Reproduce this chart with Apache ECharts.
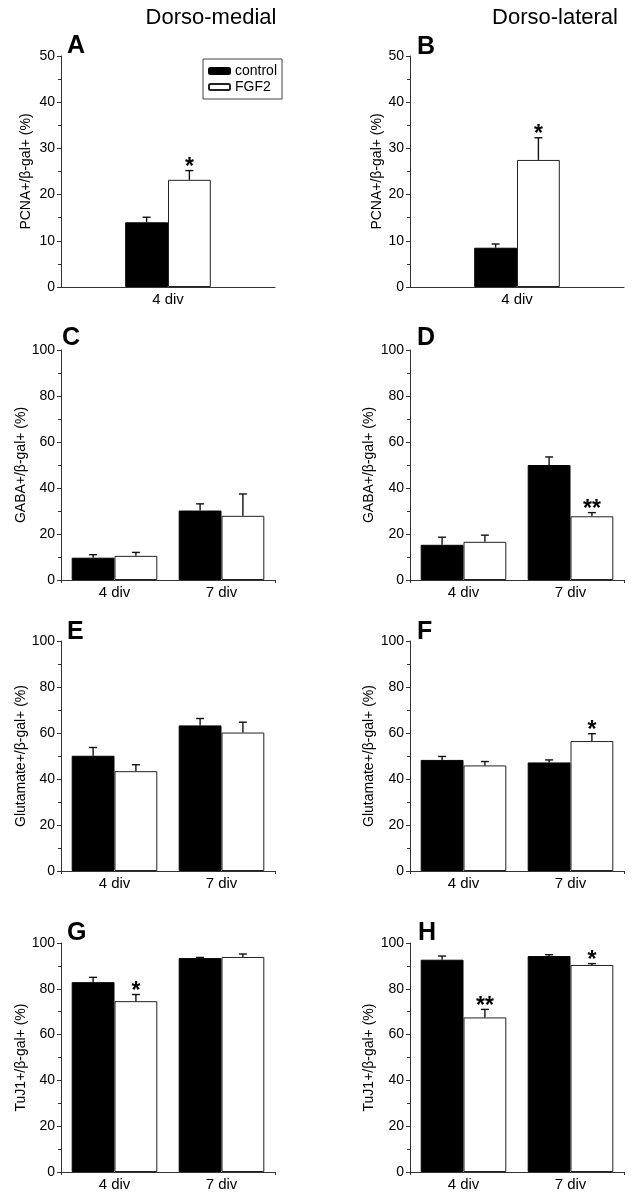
<!DOCTYPE html>
<html><head><meta charset="utf-8">
<script src="https://cdn.jsdelivr.net/npm/echarts@6/dist/echarts.min.js"></script>
<style>html,body{margin:0;padding:0;background:#fff}#c{width:638px;height:1199px}</style>
</head><body><div id="c"></div>
<script>
// ---- DATA ----
const catsOne = ['4 div'];
const catsTwo = ['4 div', '7 div'];
const seriesNames = ['control', 'FGF2'];
const columnTitles = ['Dorso-medial', 'Dorso-lateral'];
const panelLetters = ['A', 'B', 'C', 'D', 'E', 'F', 'G', 'H'];
const yTitles = ['PCNA+/β-gal+ (%)', 'PCNA+/β-gal+ (%)', 'GABA+/β-gal+ (%)', 'GABA+/β-gal+ (%)',
  'Glutamate+/β-gal+ (%)', 'Glutamate+/β-gal+ (%)', 'TuJ1+/β-gal+ (%)', 'TuJ1+/β-gal+ (%)'];
const yMax = [50, 50, 100, 100, 100, 100, 100, 100];
const yStep = [10, 10, 20, 20, 20, 20, 20, 20];

const ctrlA = [14.0], ctrlErrA = [1.1], fgfA = [23.2], fgfErrA = [2.0], sigA = ['*'];
const ctrlB = [8.5], ctrlErrB = [0.8], fgfB = [27.5], fgfErrB = [4.8], sigB = ['*'];
const ctrlC = [9.7, 30.2], ctrlErrC = [1.3, 2.9], fgfC = [10.5, 27.9], fgfErrC = [1.5, 9.5], sigC = ['', ''];
const ctrlD = [15.3, 50.0], ctrlErrD = [3.3, 3.5], fgfD = [16.6, 27.7], fgfErrD = [2.9, 1.6], sigD = ['', '**'];
const ctrlE = [50.1, 63.3], ctrlErrE = [3.6, 3.0], fgfE = [43.4, 60.2], fgfErrE = [2.8, 4.5], sigE = ['', ''];
const ctrlF = [48.3, 47.2], ctrlErrF = [1.5, 1.1], fgfF = [45.9, 56.5], fgfErrF = [1.7, 3.2], sigF = ['', '*'];
const ctrlG = [82.9, 93.4], ctrlErrG = [2.1, 0.3], fgfG = [74.6, 93.9], fgfErrG = [2.9, 1.3], sigG = ['*', ''];
const ctrlH = [92.7, 94.3], ctrlErrH = [1.6, 0.6], fgfH = [67.5, 90.4], fgfErrH = [3.5, 0.6], sigH = ['**', '*'];

const panelCats = [catsOne, catsOne, catsTwo, catsTwo, catsTwo, catsTwo, catsTwo, catsTwo];
const panelCtrl = [ctrlA, ctrlB, ctrlC, ctrlD, ctrlE, ctrlF, ctrlG, ctrlH];
const panelCtrlErr = [ctrlErrA, ctrlErrB, ctrlErrC, ctrlErrD, ctrlErrE, ctrlErrF, ctrlErrG, ctrlErrH];
const panelFgf = [fgfA, fgfB, fgfC, fgfD, fgfE, fgfF, fgfG, fgfH];
const panelFgfErr = [fgfErrA, fgfErrB, fgfErrC, fgfErrD, fgfErrE, fgfErrF, fgfErrG, fgfErrH];
const panelSig = [sigA, sigB, sigC, sigD, sigE, sigF, sigG, sigH];

// ---- LAYOUT ----
const FONT = '"Liberation Sans", Arial, sans-serif';
const colLeft = [61, 410];
const gridW = 214;
const rowTop = [56, 350, 641, 943];
const rowH = [231, 230, 230, 229];
const nameGaps = [28, 25, 32, 34, 33, 34, 33, 34];
const letterPos = [[67, 48], [417, 49], [62, 340], [417, 340], [67, 634], [417, 634], [67, 935], [418, 935]];

const grids = [], xAxes = [], yAxes = [], series = [], graphics = [];

for (let p = 0; p < 8; p++) {
  const col = p % 2, row = Math.floor(p / 2);
  const cats = panelCats[p];
  const single = cats.length === 1;
  const barFrac = single ? 0.2 : 0.4;
  grids.push({ left: colLeft[col], top: rowTop[row], width: gridW, height: rowH[row] });
  xAxes.push({
    type: 'category', gridIndex: p, data: cats,
    axisLine: { lineStyle: { color: '#333', width: 1 } },
    axisTick: { alignWithLabel: true, length: 5, lineStyle: { color: '#333' } },
    axisLabel: { color: '#000', fontSize: 15, fontFamily: FONT, margin: 5 },
    splitLine: { show: false }
  });
  xAxes.push({
    type: 'category', gridIndex: p, data: cats, position: 'bottom',
    axisLine: { show: false },
    axisTick: { show: !single, length: 3, lineStyle: { color: '#333' },
      interval: function (i) { return i > 0; } },
    axisLabel: { show: false }, splitLine: { show: false }
  });
  yAxes.push({
    type: 'value', gridIndex: p, min: 0, max: yMax[p], interval: yStep[p],
    name: yTitles[p], nameLocation: 'middle', nameGap: nameGaps[p], nameRotate: 90,
    nameTextStyle: { color: '#000', fontSize: 14, fontFamily: FONT },
    axisLine: { show: true, lineStyle: { color: '#333', width: 1 } },
    axisTick: { show: true, length: 4, lineStyle: { color: '#333' } },
    minorTick: { show: true, splitNumber: 2, length: 3, lineStyle: { color: '#333' } },
    axisLabel: { color: '#000', fontSize: 14, fontFamily: FONT, margin: 6 },
    splitLine: { show: false }
  });
  const xi = p * 2;
  const gap = single ? '60%' : '20%';
  series.push({
    name: seriesNames[0], type: 'bar', xAxisIndex: xi, yAxisIndex: p,
    data: panelCtrl[p], barGap: '0%', barCategoryGap: gap,
    itemStyle: { color: '#000', borderColor: '#000', borderWidth: 1 }, z: 2
  });
  series.push({
    name: seriesNames[1], type: 'bar', xAxisIndex: xi, yAxisIndex: p,
    data: panelFgf[p], barGap: '0%', barCategoryGap: gap,
    itemStyle: { color: '#fff', borderColor: '#222', borderWidth: 1 }, z: 2
  });
  const errData = [];
  cats.forEach(function (c, i) {
    errData.push([i, panelCtrl[p][i], panelCtrlErr[p][i], -1, '']);
    errData.push([i, panelFgf[p][i], panelFgfErr[p][i], 1, panelSig[p][i]]);
  });
  series.push({
    type: 'custom', xAxisIndex: xi, yAxisIndex: p, z: 5, silent: true,
    data: errData, encode: { x: 0, y: 1 },
    renderItem: (function (frac) {
      return function (params, api) {
        const band = api.size([1, 0])[0];
        const c = api.coord([api.value(0), api.value(1)]);
        const t = api.coord([api.value(0), api.value(1) + api.value(2)]);
        const x = c[0] + api.value(3) * band * frac / 2;
        const children = [
          { type: 'line', shape: { x1: x, y1: c[1], x2: x, y2: t[1] }, style: { stroke: '#111', lineWidth: 1.4 } },
          { type: 'line', shape: { x1: x - 4, y1: t[1], x2: x + 4, y2: t[1] }, style: { stroke: '#111', lineWidth: 1.4 } }
        ];
        const s = api.value(4);
        if (s) {
          children.push({ type: 'text', x: x, y: t[1] - 3,
            style: { text: s, fill: '#000', fontSize: 23, fontWeight: 'bold', fontFamily: FONT,
              align: 'center', verticalAlign: 'middle' } });
        }
        return { type: 'group', children: children };
      };
    })(barFrac)
  });
  graphics.push({ type: 'text', left: letterPos[p][0], top: letterPos[p][1] - 14,
    style: { text: panelLetters[p], fontSize: 25, fontWeight: 'bold', fontFamily: FONT, fill: '#000' } });
}

graphics.push({ type: 'text', x: 211, y: 18,
  style: { text: columnTitles[0], fontSize: 22, fontFamily: FONT, fill: '#000', align: 'center', verticalAlign: 'middle' } });
graphics.push({ type: 'text', x: 555, y: 18,
  style: { text: columnTitles[1], fontSize: 22, fontFamily: FONT, fill: '#000', align: 'center', verticalAlign: 'middle' } });

const chart = echarts.init(document.getElementById('c'), null, { renderer: 'canvas' });
chart.setOption({
  backgroundColor: '#fff',
  animation: false,
  textStyle: { fontFamily: FONT },
  legend: {
    data: seriesNames, orient: 'vertical', left: 203, top: 59,
    itemWidth: 21, itemHeight: 6, itemGap: 2,
    borderColor: '#444', borderWidth: 1, borderRadius: 0,
    padding: [5, 5, 5, 5],
    textStyle: { color: '#000', fontSize: 14, fontFamily: FONT, lineHeight: 14 },
    selectedMode: false
  },
  grid: grids, xAxis: xAxes, yAxis: yAxes, series: series, graphic: graphics
});
</script></body></html>
